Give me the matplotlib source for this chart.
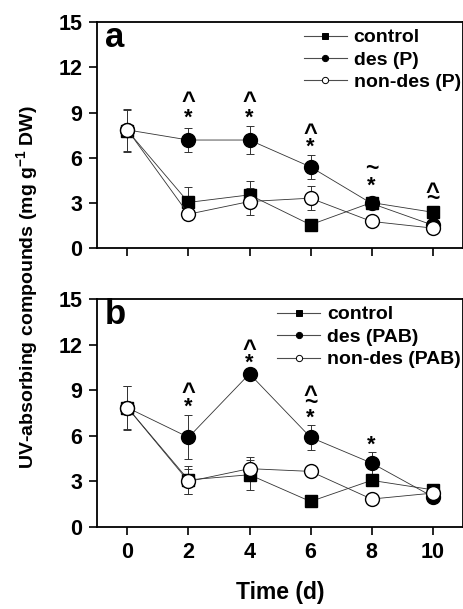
"""UV-absorbing compounds over time, two panels (P and PAB treatments)."""

import matplotlib

matplotlib.use("Agg", force=True)
import matplotlib.pyplot as plt
from matplotlib.lines import Line2D

plt.rcParams["font.family"] = ["Liberation Sans", "DejaVu Sans"]
plt.rcParams["font.weight"] = "bold"
plt.rcParams["mathtext.fontset"] = "custom"
plt.rcParams["mathtext.rm"] = "Liberation Sans:bold"
plt.rcParams["mathtext.bf"] = "Liberation Sans:bold"
plt.rcParams["mathtext.it"] = "Liberation Sans:bold"

days = [0, 2, 4, 6, 8, 10]

# panel a
control_a = [7.80, 3.05, 3.55, 1.57, 3.04, 2.40]
control_a_err = [1.40, 1.00, 0.90, 0.10, 0.10, 0.10]
des_p = [7.85, 7.18, 7.18, 5.40, 2.98, 1.55]
des_p_err = [1.40, 0.80, 0.95, 0.80, 0.10, 0.10]
nondes_p = [7.85, 2.27, 3.11, 3.33, 1.79, 1.35]
nondes_p_err = [0.00, 0.37, 0.88, 0.80, 0.10, 0.15]
marks_a = [(2, 10.15, "^"), (2, 8.93, "*"),
           (4, 10.15, "^"), (4, 8.93, "*"),
           (6, 8.05, "^"), (6, 7.06, "*"),
           (8, 5.36, "~"), (8, 4.45, "*"),
           (10, 4.12, "^"), (10, 3.42, "~")]

# panel b
control_b = [7.85, 3.10, 3.44, 1.68, 3.07, 2.45]
control_b_err = [1.40, 0.93, 1.00, 0.10, 0.10, 0.15]
des_pab = [7.85, 5.90, 10.08, 5.90, 4.21, 2.00]
des_pab_err = [1.45, 1.45, 0.10, 0.83, 0.70, 0.10]
nondes_pab = [7.85, 3.00, 3.84, 3.66, 1.84, 2.23]
nondes_pab_err = [0.00, 0.85, 0.74, 0.10, 0.30, 0.15]
marks_b = [(2, 9.26, "^"), (2, 8.23, "*"),
           (4, 12.08, "^"), (4, 11.10, "*"),
           (6, 9.09, "^"), (6, 8.27, "~"), (6, 7.51, "*"),
           (8, 5.68, "*")]

panels = [
    ("a", ["control", "des (P)", "non-des (P)"],
     [(control_a, control_a_err), (des_p, des_p_err), (nondes_p, nondes_p_err)], marks_a),
    ("b", ["control", "des (PAB)", "non-des (PAB)"],
     [(control_b, control_b_err), (des_pab, des_pab_err), (nondes_pab, nondes_pab_err)], marks_b),
]

styles = [
    dict(marker="s", ms=8.6, mfc="black", mec="black"),
    dict(marker="o", ms=10, mfc="black", mec="black"),
    dict(marker="o", ms=10, mfc="white", mec="black", mew=1.0),
]
# glyph size and a nudge (data units) so each symbol's ink sits where the reference has it
sym_size = {"^": 17, "*": 15.5, "~": 16.5}
sym_shift = {"^": -0.41, "*": -0.33, "~": -0.08}

fig = plt.figure(figsize=(4.64, 6.09), dpi=100)
ax_a = fig.add_axes([0.209, 0.592, 0.789, 0.372])
ax_b = fig.add_axes([0.209, 0.1346, 0.789, 0.3744])

for ax, (letter, labels, series, marks) in zip([ax_a, ax_b], panels):
    handles = []
    for (vals, errs), st, lab in zip(series, styles, labels):
        ax.errorbar(days, vals, yerr=errs, fmt="none", ecolor="0.2",
                    elinewidth=0.7, capsize=3.0, capthick=0.7, zorder=2)
        ax.plot(days, vals, color="0.2", lw=0.6, zorder=3, **st)
        small = dict(st)
        small["ms"] = st["ms"] * 0.45
        small["mew"] = 0.7
        handles.append(Line2D([], [], color="0.3", lw=0.8, label=lab, **small))
    for x, y, s in marks:
        ax.text(x, y + sym_shift[s], s, ha="center", va="center",
                fontsize=sym_size[s], fontweight="bold")
    ax.set_xlim(-1, 11)
    ax.set_ylim(0, 15)
    ax.set_yticks([0, 3, 6, 9, 12, 15])
    ax.set_xticks(days)
    ax.tick_params(direction="out", length=6, width=1.2, labelsize=15.5, pad=4.5)
    for sp in ax.spines.values():
        sp.set_linewidth(1.3)
    ax.text(0.022, 0.93, letter, transform=ax.transAxes, fontsize=25,
            fontweight="bold", va="center", ha="left")
    leg = ax.legend(handles=handles, loc="upper right", bbox_to_anchor=(1.012, 1.0),
                    frameon=False, fontsize=14, handlelength=2.2, handletextpad=0.35,
                    labelspacing=0.25, borderaxespad=0.1, borderpad=0.25)
    for t in leg.get_texts():
        t.set_fontweight("bold")

ax_a.tick_params(axis="x", labelbottom=False)
ax_b.set_xlabel("Time (d)", fontsize=16.5, fontweight="bold", labelpad=13)
fig.text(0.058, 0.529, "UV-absorbing compounds (mg g$^{-1}$ DW)", rotation=90,
         ha="center", va="center", fontsize=14, fontweight="bold")

fig.savefig("out.png", dpi=100)
plt.close(fig)
